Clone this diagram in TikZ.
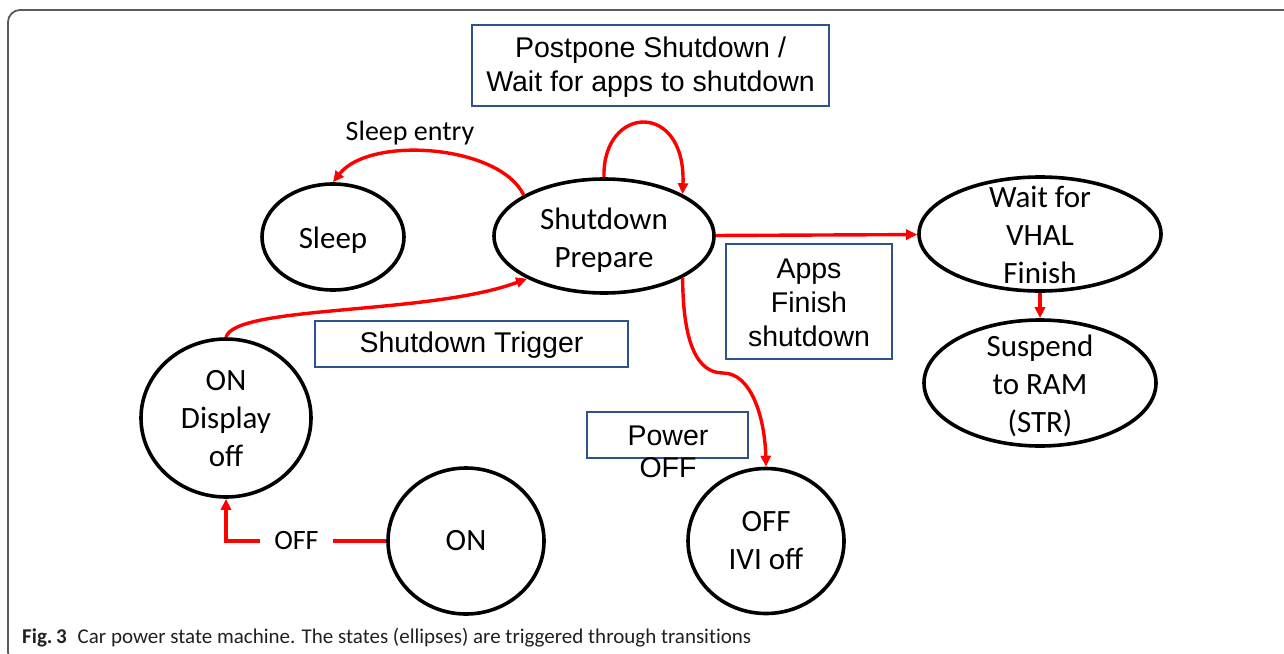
\documentclass[tikz,border=0pt]{standalone}
\usepackage{fontspec}
\setmainfont{Carlito}
\newfontfamily\arialfont{Liberation Sans}
\newfontfamily\captionfont[RawFeature=-liga]{Carlito}
\usetikzlibrary{shapes.geometric,arrows.meta}

\definecolor{transred}{RGB}{255,0,0}
\definecolor{boxblue}{RGB}{47,82,143}
\definecolor{framegray}{RGB}{90,90,90}
\definecolor{captiongray}{RGB}{35,31,32}

\begin{document}
\begin{tikzpicture}[x=1pt,y=-1pt,
  state/.style={ellipse, draw=black, line width=3.6pt, inner sep=0pt},
  statetext/.style={align=center, inner sep=0pt,
    font=\fontsize{31}{38}\selectfont},
  edgelabel/.style={inner sep=0pt, font=\fontsize{28}{34}\selectfont},
  notebox/.style={draw=boxblue, line width=1.4pt, inner sep=0pt},
  notetext/.style={align=center, inner sep=0pt,
    font=\arialfont\fontsize{28.5}{34}\selectfont},
  trans/.style={draw=transred, line width=3.4pt,
    -{Triangle[length=11pt,width=10pt]}}]

\useasboundingbox (0,0) rectangle (1284,653);
\clip (0,0) rectangle (1284,653);

% frame of the figure panel
\draw[framegray, line width=1.8pt, rounded corners=12pt]
  (1300,10) -- (8,10) -- (8,664) -- (30,664);

% states
\node[state, minimum width=142pt, minimum height=106pt] (sl) at (333,237) {};
\node[state, minimum width=220pt, minimum height=114pt] (sp) at (604,236) {};
\node[state, minimum width=242pt, minimum height=114pt] (wv) at (1040,234) {};
\node[state, minimum width=232pt, minimum height=126pt] (su) at (1040,383) {};
\node[state, minimum width=170pt, minimum height=158pt] (od) at (226,418) {};
\node[state, minimum width=156pt, minimum height=146pt] (on) at (466,541) {};
\node[state, minimum width=156pt, minimum height=145pt] (off) at (766,541) {};

\node[statetext] (sltext)  at (333,240)  {Sleep};
\node[statetext] (sptext)  at (604,240)  {Shutdown\\Prepare};
\node[statetext] (wvtext)  at (1040,235) {Wait for\\VHAL\\Finish};
\node[statetext] (sutext)  at (1040,386) {Suspend\\to RAM\\(STR)};
\node[statetext] (odtext)  at (226,418.5) {ON\\Display\\off};
\node[statetext] (ontext)  at (466,541)  {ON};
\node[statetext] (offtext) at (766,541)  {OFF\\IVI off};

% annotation boxes
\node[notebox, minimum width=357pt, minimum height=81pt] (pp) at (650.5,65.5) {};
\node[notetext] (pptext) at (650.5,67) {Postpone Shutdown /\\Wait for apps to shutdown};
\node[notebox, minimum width=313pt, minimum height=46pt] (stbox) at (471.5,344) {};
\node[notetext] (sttext) at (471.5,345) {Shutdown Trigger};
\node[notebox, minimum width=166pt, minimum height=115pt] (af) at (809,301.5) {};
\node[notetext] (aftext) at (809,303) {Apps\\Finish\\shutdown};
\node[notebox, minimum width=161pt, minimum height=46pt] (po) at (667.5,435) {};
\node[notetext, anchor=base] (powertext) at (668,445) {Power};
\node[notetext, anchor=base] (powerofftext) at (668,477) {OFF};

% transitions
\draw[trans] (sp.153) .. controls (500,145) and (370,135) .. (sl.north);
\node[edgelabel] (sleepentry) at (410,133) {Sleep entry};

\draw[trans] (sp.north) .. controls (602,105) and (686,100) .. (sp.28);

\draw[trans] (od.north) .. controls (235,305) and (430,315) .. (sp.209);

\draw[trans] (sp) -- (wv);

\coordinate (bend) at (723,373);
\draw[trans] (sp.332) .. controls (683,345) and (698,373) .. (bend)
  .. controls (752,373) and (765,420) .. (off.north);

\draw[trans] (wv) -- (su);

\draw[trans] (on.west) -| node[pos=0.28, fill=white, inner xsep=14pt,
  inner ysep=4pt, font=\fontsize{28}{34}\selectfont] (offlabel) {OFF} (od.south);

% caption
\node[anchor=base west, inner sep=0pt, text=captiongray,
  font=\captionfont\fontsize{21}{25}\selectfont] (caption) at (22,643)
  {\textbf{Fig.\,3}\hspace{11pt}Car power state machine. The states (ellipses) are triggered through transitions};
\end{tikzpicture}
\end{document}
